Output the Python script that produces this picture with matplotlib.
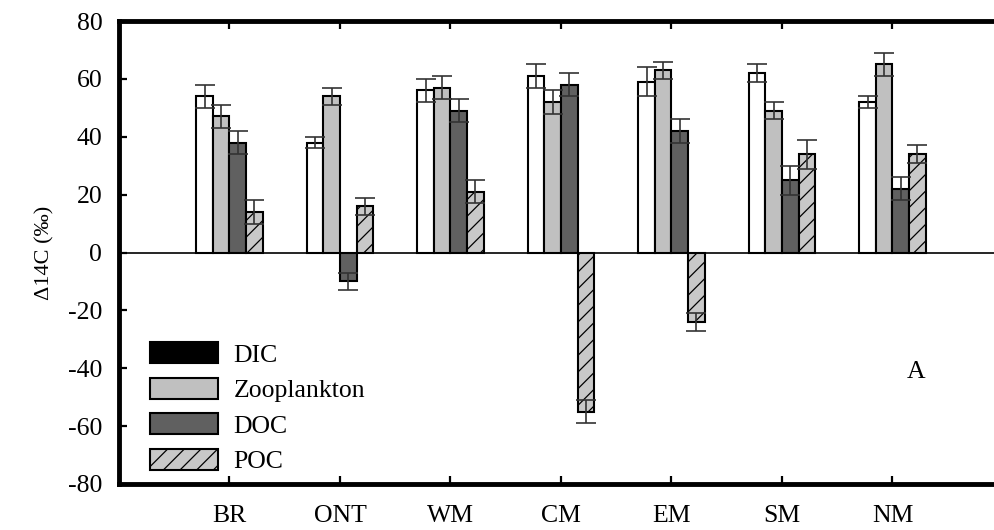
import matplotlib
matplotlib.use("Agg")
import matplotlib.pyplot as plt
import numpy as np
from matplotlib.patches import Patch

plt.rcParams['font.family'] = ['Liberation Serif', 'DejaVu Serif']
plt.rcParams['hatch.linewidth'] = 0.9

sites = ["BR", "ONT", "WM", "CM", "EM", "SM", "NM"]
dic = [54, 38, 56, 61, 59, 62, 52]
dic_err = [4, 2, 4, 4, 5, 3, 2]
zoo = [47, 54, 57, 52, 63, 49, 65]
zoo_err = [4, 3, 4, 4, 3, 3, 4]
doc = [38, -10, 49, 58, 42, 25, 22]
doc_err = [4, 3, 4, 4, 4, 5, 4]
poc = [14, 16, 21, -55, -24, 34, 34]
poc_err = [4, 3, 4, 4, 3, 5, 3]
yticks = [-80, -60, -40, -20, 0, 20, 40, 60, 80]

fig = plt.figure(figsize=(9.95, 5.30), dpi=100)
ax = fig.add_axes([119/995, 46/530, 884/995, 463/530])

x = np.arange(1, len(sites) + 1)
w = 0.15
offs = [-1.5 * w, -0.5 * w, 0.5 * w, 1.5 * w]
ekw = dict(ecolor='#333333', elinewidth=1.2, capsize=7.2, capthick=1.2)
edge = dict(edgecolor='black', linewidth=1.5)

ax.bar(x + offs[0], dic, w, color='white', yerr=dic_err, error_kw=ekw, zorder=2, **edge)
ax.bar(x + offs[1], zoo, w, color='#c0c0c0', yerr=zoo_err, error_kw=ekw, zorder=2, **edge)
ax.bar(x + offs[2], doc, w, color='#606060', yerr=doc_err, error_kw=ekw, zorder=2, **edge)
ax.bar(x + offs[3], poc, w, color='#c8c8c8', hatch='//', yerr=poc_err, error_kw=ekw, zorder=2, **edge)

ax.axhline(0, color='black', linewidth=1.2, zorder=3)

ax.set_xlim(0, 8)
ax.set_ylim(-80, 80)
ax.set_xticks(x)
ax.set_xticklabels(sites)
ax.set_yticks(yticks)
ax.set_yticklabels([str(v) for v in yticks])
ax.tick_params(direction='in', top=True, right=True, length=6, width=1.6,
               labelsize=18.5)
ax.tick_params(axis='y', pad=12)
ax.tick_params(axis='x', pad=15)
for s in ['left', 'top', 'bottom']:
    ax.spines[s].set_linewidth(3.5)
ax.spines['right'].set_visible(False)

ax.set_ylabel('Δ14C (‰)', fontsize=16, labelpad=10)

handles = [Patch(facecolor='black', edgecolor='black', linewidth=1.5, label='DIC'),
           Patch(facecolor='#c0c0c0', edgecolor='black', linewidth=1.5, label='Zooplankton'),
           Patch(facecolor='#606060', edgecolor='black', linewidth=1.5, label='DOC'),
           Patch(facecolor='#c8c8c8', edgecolor='black', linewidth=1.5, hatch='//', label='POC')]
leg = ax.legend(handles=handles, loc='upper left', bbox_to_anchor=(150/995, (530-342)/530),
                bbox_transform=fig.transFigure, frameon=False, fontsize=18.5,
                handlelength=2.65, handleheight=0.9, handletextpad=0.6,
                labelspacing=0.43, borderpad=0, borderaxespad=0)

ax.text(916/995, (530-372)/530, 'A', transform=fig.transFigure, fontsize=18.5,
        ha='center', va='center')

fig.savefig('out.png', dpi=100)
